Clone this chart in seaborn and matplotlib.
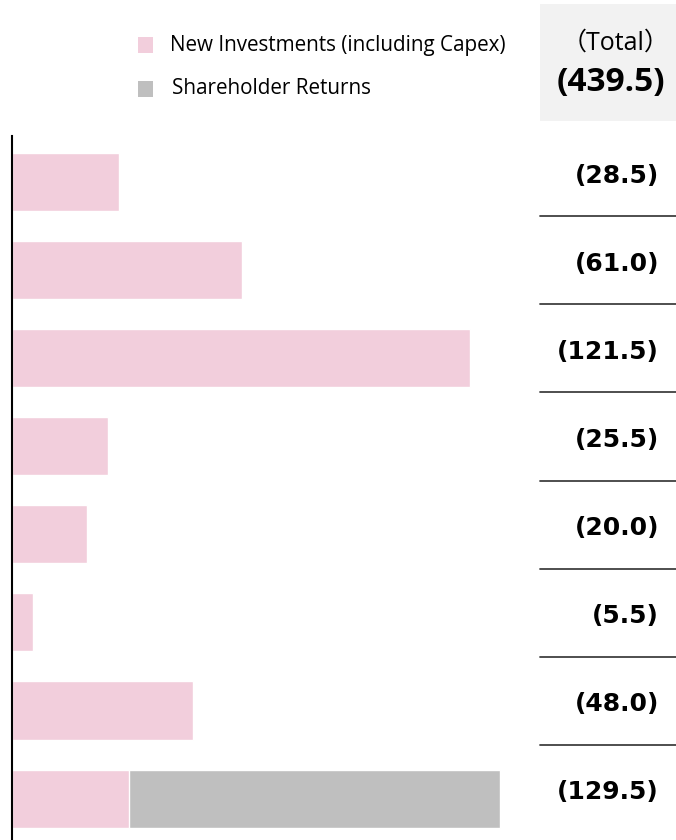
import matplotlib
matplotlib.use("Agg")
import matplotlib.pyplot as plt
from matplotlib.patches import Rectangle
import seaborn as sns
import pandas as pd

# Values
rows = ["R1", "R2", "R3", "R4", "R5", "R6", "R7", "R8"]
new_investments = [28.5, 61.0, 121.5, 25.5, 20.0, 5.5, 48.0, 31.0]
shareholder_returns = [0, 0, 0, 0, 0, 0, 0, 98.5]
total_labels = ["(28.5)", "(61.0)", "(121.5)", "(25.5)", "(20.0)", "(5.5)", "(48.0)", "(129.5)"]
grand_total = "(439.5)"

pink = "#F2CEDC"
gray = "#BFBFBF"

df = pd.DataFrame({"row": rows, "new": new_investments, "ret": shareholder_returns})
df["total"] = df["new"] + df["ret"]

sns.set_theme(style="white")
plt.rcParams["font.family"] = ["Open Sans", "Noto Sans CJK JP", "DejaVu Sans"]
plt.rcParams["text.color"] = "black"
bold_font = ["DejaVu Sans"]

W, H = 676, 840
fig = plt.figure(figsize=(W / 100, H / 100), dpi=100)
ax = fig.add_axes([12 / W, 0, (W - 12) / W, (840 - 136) / H])

# Stacked bars: total in gray, new investments drawn over it
sns.barplot(data=df, x="total", y="row", color=gray, width=0.66, saturation=1, ax=ax)
sns.barplot(data=df, x="new", y="row", color=pink, width=0.66, saturation=1, ax=ax)

px = 3.77  # pixels per unit
ax.set_xlim(0, (W - 12) / px)
ax.set_ylim(7.47, -0.52)
ax.set_xlabel("")
ax.set_ylabel("")
ax.set_xticks([])
ax.set_yticks([])
for s in ["top", "right", "bottom"]:
    ax.spines[s].set_visible(False)
ax.spines["left"].set_color("black")
ax.spines["left"].set_linewidth(1.5)

# Right column with totals
x_txt = (659 - 12) / px
x_sep0 = (540 - 12) / px
for i, lab in enumerate(total_labels):
    ax.text(x_txt, i - 0.07, lab, ha="right", va="center", fontsize=18,
            fontweight="bold", family=bold_font, color="black")
    if i < len(total_labels) - 1:
        ax.plot([x_sep0, (W - 12) / px], [i + 0.39, i + 0.39], color="#404040",
                lw=1.3, clip_on=False)

# Total box at top right
fig.add_artist(Rectangle((540 / W, 1 - 121 / H), 140 / W, 117 / H,
                         transform=fig.transFigure, color="#F2F2F2", lw=0))
fig.text(616 / W, 1 - 43 / H, "（Total）", ha="center", va="center", fontsize=18)
fig.text(557 / W, 1 - 83 / H, grand_total, ha="left", va="center", fontsize=24,
         fontweight="bold")

# Legend
for y, c, lab in [(45, pink, "New Investments (including Capex)"),
                  (89, gray, "Shareholder Returns")]:
    fig.add_artist(Rectangle((138 / W, 1 - (y + 7.5) / H), 15 / W, 15 / H,
                             transform=fig.transFigure, color=c, lw=0))
    fig.text(170 / W if y == 45 else 172 / W, 1 - y / H, lab, ha="left",
             va="center", fontsize=14.9)

fig.savefig("out.png", dpi=100)
